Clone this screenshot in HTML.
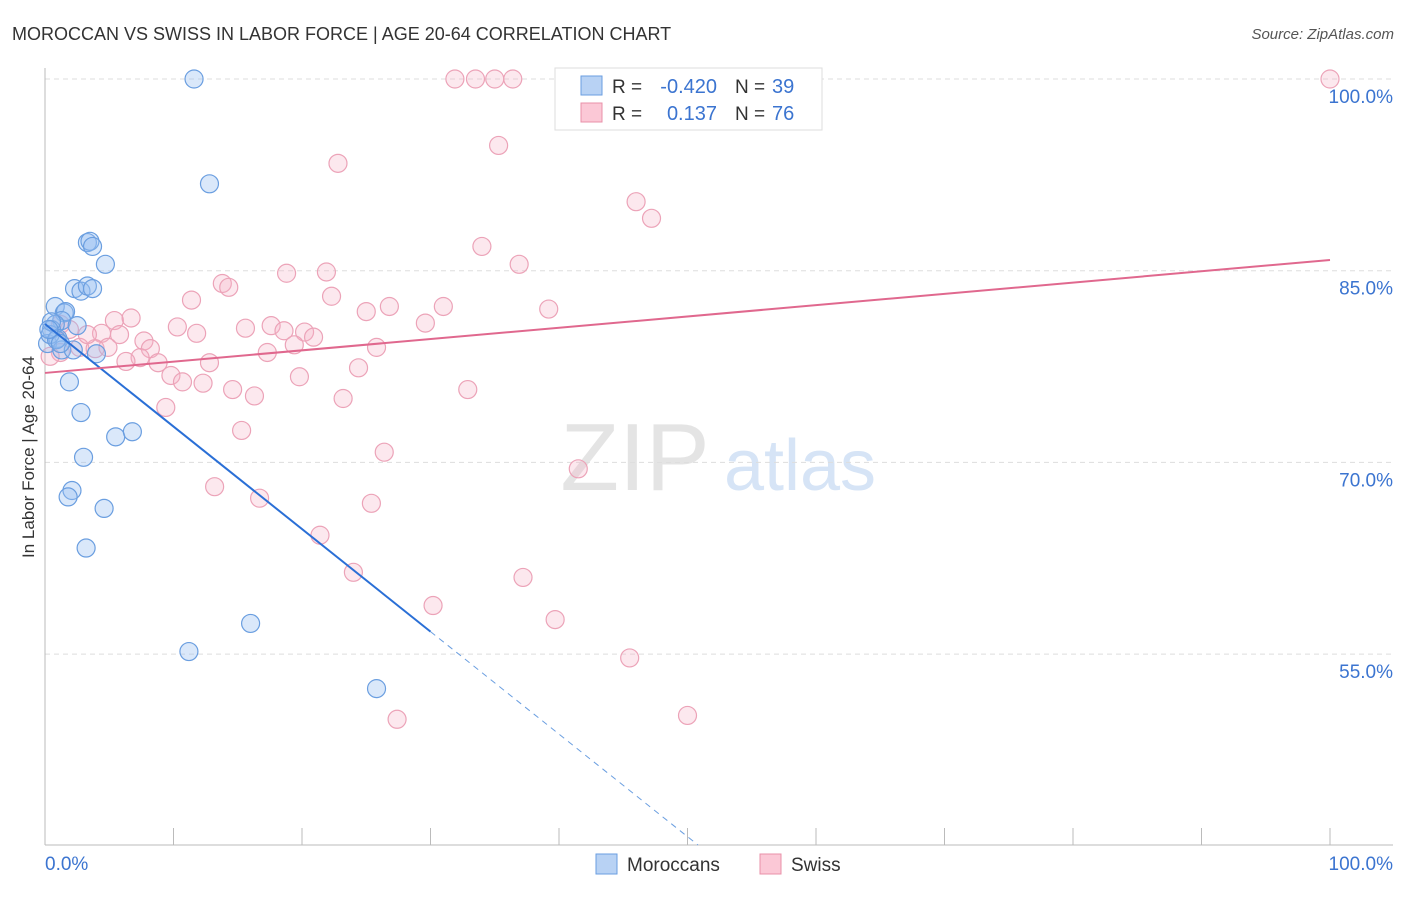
<!DOCTYPE html>
<html><head><meta charset="utf-8">
<style>
body{margin:0;background:#fff;font-family:"Liberation Sans",sans-serif;}
svg text{font-family:"Liberation Sans",sans-serif;}
</style></head>
<body>
<svg id="chart" width="1406" height="892" xmlns="http://www.w3.org/2000/svg">
<text x="12" y="40" font-size="18" fill="#333">MOROCCAN VS SWISS IN LABOR FORCE | AGE 20-64 CORRELATION CHART</text>
<text x="1394" y="39" font-size="15" fill="#555" text-anchor="end" font-style="italic">Source: ZipAtlas.com</text>
<text x="34" y="457" font-size="17" fill="#333" text-anchor="middle" transform="rotate(-90 34 457)">In Labor Force | Age 20-64</text>
<g>
<text x="635" y="490" font-size="96" fill="#e4e4e4" text-anchor="middle" font-family="Liberation Serif, serif">ZIP</text>
<text x="800" y="490" font-size="72" fill="#d6e4f6" text-anchor="middle">atlas</text>
</g>
<g id="grid"></g><g id="axes"></g><g id="pts"></g><g id="lines"></g>
<g>
<rect x="555" y="68" width="267" height="62" fill="#fff" stroke="#ddd"/>
<rect x="581" y="76" width="21" height="19" fill="#b8d2f4" stroke="#6a9ee0"/>
<rect x="581" y="103" width="21" height="19" fill="#fbc8d6" stroke="#e890a8"/>
<text x="612" y="93" font-size="19" fill="#333">R =</text><text x="717" y="93" font-size="20" fill="#3b74d0" text-anchor="end">-0.420</text>
<text x="735" y="93" font-size="19" fill="#333">N =</text><text x="772" y="93" font-size="20" fill="#3b74d0">39</text>
<text x="612" y="120" font-size="19" fill="#333">R =</text><text x="717" y="120" font-size="20" fill="#3b74d0" text-anchor="end">0.137</text>
<text x="735" y="120" font-size="19" fill="#333">N =</text><text x="772" y="120" font-size="20" fill="#3b74d0">76</text>
</g>
<g>
<rect x="596" y="854" width="21" height="20" fill="#b8d2f4" stroke="#6a9ee0"/>
<text x="627" y="871" font-size="19" fill="#333">Moroccans</text>
<rect x="760" y="854" width="21" height="20" fill="#fbc8d6" stroke="#e890a8"/>
<text x="791" y="871" font-size="19" fill="#333">Swiss</text>
</g>
</svg>
<script>
const yTicks=[100,85,70,55];
const xTickLabels=["0.0%","100.0%"];
const blueX=[11.6,12.8,3.3,3.5,3.7,4.7,2.3,2.8,3.3,3.7,0.8,1.5,1.6,1.3,2.5,0.8,0.5,0.2,1.0,1.3,2.2,4.0,1.9,2.8,5.5,6.8,3.0,2.1,1.8,4.6,3.2,11.2,16.0,25.8,0.4,0.9,0.5,1.2,0.3];
const blueY=[100,91.8,87.2,87.3,86.9,85.5,83.6,83.4,83.8,83.6,82.2,81.7,81.8,81.1,80.7,80.8,80.4,79.3,79.7,78.8,78.8,78.5,76.3,73.9,72.0,72.4,70.4,67.8,67.3,66.4,63.3,55.2,57.4,52.3,80.0,79.6,81.0,79.3,80.4];
const swissX=[31.9,33.5,35.0,36.4,100,51.6,35.3,22.8,46.0,47.2,34.0,36.9,18.8,21.9,13.8,14.3,11.4,22.3,26.8,31.0,39.2,25.0,29.6,5.4,6.7,10.3,15.6,17.6,18.6,20.2,20.9,11.8,4.4,5.8,7.7,8.2,19.4,25.8,17.3,7.4,6.3,8.8,12.8,24.4,9.8,19.8,10.7,12.3,14.6,16.3,32.9,23.2,9.4,15.3,26.4,41.5,13.2,16.7,25.4,21.4,24.0,37.2,30.2,39.7,45.5,50.0,27.4,2.7,3.9,1.2,0.4,1.9,3.3,4.9,1.2];
const swissY=[100,100,100,100,100,99.9,94.8,93.4,90.4,89.1,86.9,85.5,84.8,84.9,84.0,83.7,82.7,83.0,82.2,82.2,82.0,81.8,80.9,81.1,81.3,80.6,80.5,80.7,80.3,80.2,79.8,80.1,80.1,80.0,79.5,78.9,79.2,79.0,78.6,78.2,77.9,77.8,77.8,77.4,76.8,76.7,76.3,76.2,75.7,75.2,75.7,75.0,74.3,72.5,70.8,69.5,68.1,67.2,66.8,64.3,61.4,61.0,58.8,57.7,54.7,50.2,49.9,79.0,78.9,78.6,78.3,80.4,80.0,79.0,80.8];
const blueFit=[80.83,0.6];   // y at x=0, x=100
const blueSolidEnd=30;
const swissFit=[77.0,85.84];

const NS="http://www.w3.org/2000/svg";
const X=v=>45+v*12.85, Y=v=>79+(100-v)*12.78;
function mk(p,t,a){const e=document.createElementNS(NS,t);for(const k in a)e.setAttribute(k,a[k]);document.getElementById(p).appendChild(e);return e;}
yTicks.forEach(t=>{
  const g=mk('grid','line',{x1:45,x2:1393,y1:Y(t),y2:Y(t),stroke:'#ddd','stroke-dasharray':'5,4'});
  
  
  const l=mk('axes','text',{x:1393,y:Y(t)+24,'font-size':19,fill:'#3b74d0','text-anchor':'end'});
  l.textContent=t.toFixed(1)+'%';
  
  
});
let a=mk('axes','line',{x1:45,x2:45,y1:68,y2:845,stroke:'#bbb'});


a=mk('axes','line',{x1:45,x2:1393,y1:845,y2:845,stroke:'#bbb'});


for(let i=0;i<=10;i++){const t=mk('axes','line',{x1:X(i*10),x2:X(i*10),y1:828,y2:845,stroke:'#bbb'});
  
  }
[[0,'start',45],[1,'end',1393]].forEach(([i,an,x])=>{const t=mk('axes','text',{x:x,y:870,'font-size':19,fill:'#3b74d0','text-anchor':an});t.textContent=xTickLabels[i];
  
  });
swissX.forEach((v,i)=>{const c=mk('pts','circle',{cx:X(v),cy:Y(swissY[i]),r:9,fill:'rgba(246,178,198,0.3)',stroke:'#eca3b8','stroke-width':1.2});
  
  });
blueX.forEach((v,i)=>{const c=mk('pts','circle',{cx:X(v),cy:Y(blueY[i]),r:9,fill:'rgba(150,190,240,0.35)',stroke:'#6a9ee0','stroke-width':1.2});
  
  });
const by=x=>blueFit[0]+(blueFit[1]-blueFit[0])*x/100;
let ln=mk('lines','line',{x1:X(0),y1:Y(by(0)),x2:X(blueSolidEnd),y2:Y(by(blueSolidEnd)),stroke:'#2a6fd6','stroke-width':2});


const xEnd=(blueFit[0]-40.06)/(blueFit[0]-blueFit[1])*100;
ln=mk('lines','line',{x1:X(blueSolidEnd),y1:Y(by(blueSolidEnd)),x2:X(xEnd),y2:Y(by(xEnd)),stroke:'#6a9ee0','stroke-width':1,'stroke-dasharray':'6,5'});


ln=mk('lines','line',{x1:X(0),y1:Y(swissFit[0]),x2:X(100),y2:Y(swissFit[1]),stroke:'#e0688e','stroke-width':2});


</script>
</body></html>
